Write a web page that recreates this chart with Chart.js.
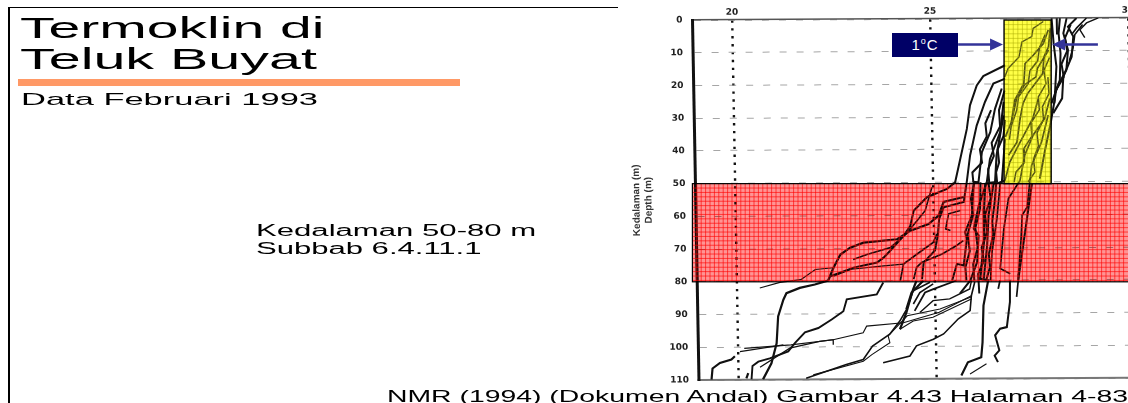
<!DOCTYPE html>
<html>
<head>
<meta charset="utf-8">
<script src="https://cdn.jsdelivr.net/npm/chart.js@4"></script>
<style>
html,body{margin:0;padding:0;background:#fff;width:1128px;height:403px;overflow:hidden}
#c{position:absolute;left:0;top:0}
.t{position:absolute;white-space:nowrap;font-family:"Liberation Sans",Arial,sans-serif;color:#000;transform-origin:0 0;line-height:1}
.f{position:absolute;background:#000}
#bar{position:absolute;left:18px;top:79px;width:442px;height:7px;background:#ff9966}
#box{position:absolute;left:892px;top:33px;width:66px;height:24px;background:#000066;color:#fff;font:15px "Liberation Sans",Arial,sans-serif;text-align:center;line-height:24px;letter-spacing:1px}
#box sup{font-size:9px;line-height:0}
</style>
</head>
<body>
<canvas id="c" width="1128" height="403"></canvas>
<div class="f" style="left:8px;top:7px;width:2px;height:396px"></div>
<div class="f" style="left:8px;top:7px;width:610px;height:1px"></div>
<div class="t" data-w="305" style="left:20px;top:14px;font-size:29px">Termoklin di</div>
<div class="t" data-w="297" style="left:20px;top:45px;font-size:29px">Teluk Buyat</div>
<div id="bar"></div>
<div class="t" data-w="296" style="left:21px;top:91px;font-size:17px">Data Februari 1993</div>
<div class="t" data-w="280" style="left:256px;top:223px;font-size:16px">Kedalaman 50-80 m</div>
<div class="t" data-w="225" style="left:256px;top:241px;font-size:16px">Subbab 6.4.11.1</div>
<div class="t" data-w="741" style="left:387px;top:389px;font-size:16px">NMR (1994) (Dokumen Andal) Gambar 4.43 Halaman 4-83</div>
<div id="box">1<sup>o</sup>C</div>
<script>
// Tick labels
const tempTicks = [20, 25, 30];
const depthTicks = [0, 10, 20, 30, 40, 50, 60, 70, 80, 90, 100, 110];
const depthTitle = ['Kedalaman (m)', 'Depth (m)'];

// Highlighted ranges
const yellowTemp = [26.87, 28.06];
const yellowDepth = [0, 50];
const redDepth = [50, 80];
const arrowDepth = 7.5;
const arrowTemp = [25.71, 29.24];

// Temperature profiles
const tA=[19.32,19.35,19.54,19.83,19.92], dA=[109.9,106.5,104.8,103.8,102.8];
const tB=[20.2,20.25], dB=[109.6,108];
const tD=[20.33,20.36,20.51,20.80,21.27,21.44,21.70,22.04,22.38,22.68,22.77,23.53,23.70];
const dD=[109.9,105.8,104.5,103.5,101.4,98.9,95.6,94.3,91.7,89.2,85.6,84.1,80.5];
const tMain=[20.62,20.84,20.98,21.03,21.17,21.25,21.59,21.97,22.31,22.45,22.63,22.88,23.22,24.07,24.41,24.87,25.13,25.26,25.77];
const dMain=[109.9,105,98.9,90.7,85.6,83.6,82,81,79.8,75.9,71.9,69.8,68.3,67.3,64.7,62.7,60.1,56,54.5];
const tC=[20.58,21.09,21.62,21.99,22.45], dC=[82,80.3,79.5,76.4,75.9];
const tU1=[22.37,22.96,23.55,23.72,23.89,24.24,24.41,24.5,24.84,25.35,25.56,25.70,25.88,25.97,26.15,26.32,26.875];
const dU1=[78.5,75.9,74.4,72.9,70.8,66.2,63.2,58.6,54.5,52,50,42.9,33.7,26.5,20.4,17.6,14.3];
const tU2=[26.87,26.57,26.35,26.13,25.95,25.86,25.77,25.26,25.14,25.1,25.02,24.73,24.68];
const dU2=[18.4,19.9,25.5,32.7,41.8,49.4,56,57.6,61.1,66.2,70.8,74.4,79.5];
const tU3=[26.78,26.60,26.47,26.25,26.15,26.03,25.97,25.79,25.83,25.74,25.57,25.44];
const dU3=[21.4,27.6,34.7,40.8,50,49.9,60.1,65.2,67.3,75.4,74.9,80];
const tU4=[26.82,26.72,26.45,26.36,26.15,26.01,26.13,26.08,25.9,25.63];
const dU4=[25.5,34.7,42.9,50,57,64.2,66.2,74.4,80,84];
const tU5=[26.81,26.62,26.57,26.32,26.28,26.27,26.15,26.35,26.22,26.18,26.14,25.8,25.63];
const dU5=[29.6,41.8,50,50.5,58,67.3,79.5,80,87.7,98.9,103.5,105,109];
const tU6=[26.84,26.74,26.53,26.39,26.34,26.24], dU6=[36.7,50,50.5,60.1,69.3,79.5];
const tY1=[27.86,27.60,27.56,27.31,27.23,26.95,26.86], dY1=[1,3.1,5.6,7.2,11.8,15.3,17.9];
const tY2=[27.98,27.85,27.59,27.38,27.34,27.10,27.01,26.85], dY2=[3.6,7.7,11.3,13.8,19.9,25,31.6,36.2];
const tY3=[28.03,27.98,27.86,27.82,27.43,27.31,27.23,27.14,26.92], dY3=[3.1,8.7,11.8,16.9,23,26,30.6,37.8,41.8];
const tY4=[27.98,27.69,27.65,27.35,27.15,27.01], dY4=[9.7,15.3,17.9,20.4,24.5,31.6];
const tY5=[27.99,27.85,27.55,27.33,27.2,26.9,26.77,26.66,26.91], dY5=[24.5,30.6,35.7,41.8,49.5,55,64.2,76.4,78];
const tY6=[27.70,27.55,27.22,26.95,26.82,26.7,26.6,26.46,26.41], dY6=[24.5,30.6,37.8,43.9,49.5,50,61.1,71.3,80];
const tY7=[27.94,27.76,27.5,27.45,27.37,27.24,27.2,27.12,27.11,27.06], dY7=[29.6,37.8,44.9,49.5,57.6,60.1,67.3,78,80,85.1];
const tZ1=[28.07,28.11,28.17,28.11,28.0,27.85,27.7], dZ1=[0,7.7,14.8,25,32,40,49];
const tZ2=[28.28,28.24,28.28,28.25,28.03], dZ2=[0,4.6,10.7,18.9,26];
const tZ3=[28.45,28.36,28.47,28.42,28.21,28.12], dZ3=[0,4.6,9.7,15.8,20.4,23];
const tZ4=[28.7,28.48,28.61,28.56,28.34,28.3,28.07], dZ4=[0,2.6,5.6,11.8,17.9,24.5,29];
const tZ5=[28.95,28.7,28.57], dZ5=[0,3,5];
const tZ6=[29.25,28.95,28.78,28.9], dZ6=[0,1.5,3.6,6];
const tZ7=[28.2,28.2], dZ7=[0,5];
const tZ8=[28.55,28.4,28.45,28.3,28.35,28.15,28.1], dZ8=[2,6,10,14,18,22,26];
const tZ9=[28.85,28.65,28.6,28.5], dZ9=[2,5,9,13];
const tV3=[25.68,25.38,25.3,25.42], dV3=[58.6,59.6,64.2,64.7];
const tW1=[24.13,24.22,24.56,24.98,25.08], dW1=[80,74.9,71.9,68.3,65.7];
const tW2=[24.47,24.55,24.68,25.2,25.57,25.74], dW2=[79.5,75.9,74.4,71.9,69.3,67.8];
const tW5=[22.45,22.9,23.72,24.22], dW5=[78.5,76.4,75.4,74.9];
const tW6=[22.95,23.3,23.9,24.3,24.58,24.79,24.97], dW6=[73.4,71.9,69.8,65.7,61.7,58.6,51.5];
const tP=[24.27,24.41,24.71], dP=[88.7,83.6,80];
const tQ=[24.48,24.75,24.96,25.55], dQ=[89.2,83.6,82.6,80];
const tR=[24.61,24.95,25.37,25.88,25.93], dR=[89.7,86.1,85.6,82.6,80];
const tS=[24.1,24.27,24.45,24.54], dS=[94.8,89.7,82.6,80];
const tK=[24.1,24.44,24.94,25.93], dK=[94.8,92.3,91.2,85.6];
const tE=[20.16,21.34,22.41,23.17,23.26,24.19,25.1,25.93], dE=[100.4,99.4,97.9,95.8,93.8,92.8,89.7,84.6];
const tH=[21.71,22.73,23.16,23.4,23.84,24.1,24.28,24.45,24.88], dH=[109.6,105.5,104,99.9,96.3,92.3,88.7,83.1,80.5];
const tI=[21.89,23.16,23.38,23.84,23.8,24.29,25.12,25.93], dI=[108.6,104.5,102.5,98.9,96.8,90.7,88.7,85];
const tF=[20.55,21.31,22.07,22.41,22.41], dF=[106.2,100.4,98.4,97.9,99.4];
const tG=[20.05,21.15], dG=[101.4,99.4];
const tJ=[23.66,24.34,24.51,24.94,25.2,25.58,25.88,25.92,26.01], dJ=[105,103,99.9,97.9,96.3,91.7,89.2,84.6,80.5];
const tM=[26.56,26.48,26.6,26.5,26.63,26.8,26.89,26.9], dM=[105,103,101.4,96.8,94.8,94.3,86.6,80];
const tM2=[25.85,26.27], dM2=[108.6,105.5];
const tN=[27.11,27.5], dN=[80,50.4];
const tO=[26.6,26.65], dO=[82.6,80];
const tT=[24.45,24.62,24.96], dT=[87.1,83.6,81];
const tA1=[27.9,27.75,27.7,27.5,27.45,27.2,27.15,27.0,26.95], dA1=[5,9,13,16,20,24,28,33,37];
const tA2=[28,27.85,27.9,27.7,27.72,27.5,27.52,27.3,27.32,27.1,27.05], dA2=[12,16,20,24,28,32,36,40,44,47,50];
const tA3=[27.95,27.97,27.8,27.82,27.65,27.68,27.55,27.58,27.4], dA3=[18,23,27,31,35,39,43,47,50];
const tL1=[26.85,26.7,26.72,26.5,26.55,26.4,26.42], dL1=[22,28,33,38,42,46,50];
const tL2=[26.85,26.8,26.65,26.68,26.6,26.62], dL2=[31,36,40,44,47,50];
const tL3=[26.5,26.35,26.38,26.2,26.25,26.0,26.02], dL3=[28,32,36,40,44,47,50];
const tR1=[26.4,26.45,26.3,26.35,26.2,26.25,26.1,26.12], dR1=[50,55,60,65,70,74,78,84];
const tR2=[26.6,26.55,26.48,26.5,26.38,26.4,26.3], dR2=[50,56,62,66,72,76,80];
const tR3=[26.05,25.95,26.0,25.85,25.9,25.78,25.8], dR3=[50,55,60,66,71,76,80];
const tR4=[26.2,26.18,26.05,26.1,25.98,26.0], dR4=[50,58,64,70,75,80];

const profiles = [
  [tA,dA,2.2],[tB,dB,2.2],[tD,dD,1.9],[tMain,dMain,2.2],[tC,dC,1.1],[tU1,dU1,2],[tU2,dU2,2],[tU3,dU3,2],
  [tU4,dU4,2],[tU5,dU5,2.2],[tU6,dU6,2],[tY1,dY1,1.4],[tY2,dY2,1.7],[tY3,dY3,1.7],[tY4,dY4,1.7],
  [tY5,dY5,1.7],[tY6,dY6,1.7],[tY7,dY7,1.7],[tZ1,dZ1,2],[tZ2,dZ2,2],[tZ3,dZ3,2],[tZ4,dZ4,2],
  [tZ5,dZ5,1.6],[tZ6,dZ6,1.4],[tZ7,dZ7,2],[tZ8,dZ8,2],[tZ9,dZ9,1.6],[tV3,dV3,1.6],[tW1,dW1,1.7],[tW2,dW2,1.7],[tW5,dW5,1.1],
  [tW6,dW6,1.6],[tP,dP,2.2],[tQ,dQ,1.8],[tR,dR,1.4],[tS,dS,2.2],[tK,dK,1.1],[tE,dE,1.1],[tH,dH,1.6],[tI,dI,1.1],
  [tF,dF,1.3],[tG,dG,1.1],[tJ,dJ,1.6],[tM,dM,2],[tM2,dM2,1.1],[tN,dN,2],[tO,dO,1.8],[tT,dT,1.6],
  [tA1,dA1,1.5],[tA2,dA2,1.5],[tA3,dA3,1.5],[tL1,dL1,2],[tL2,dL2,2],[tL3,dL3,2],[tR1,dR1,2],[tR2,dR2,2],[tR3,dR3,2],[tR4,dR4,2]
];

function gridRect(ctx, x0, y0, x1, y1, step, color) {
  ctx.strokeStyle = color;
  ctx.lineWidth = 1;
  ctx.beginPath();
  for (let x = x0 + step; x < x1; x += step) { ctx.moveTo(x, y0); ctx.lineTo(x, y1); }
  for (let y = y0 + step; y < y1; y += step) { ctx.moveTo(x0, y); ctx.lineTo(x1, y); }
  ctx.stroke();
}
function arrow(ctx, xFrom, xTo, y) {
  const dir = xTo > xFrom ? 1 : -1;
  ctx.strokeStyle = ctx.fillStyle = '#333399';
  ctx.lineWidth = 2.5;
  ctx.beginPath(); ctx.moveTo(xFrom, y); ctx.lineTo(xTo - dir * 10, y); ctx.stroke();
  ctx.beginPath(); ctx.moveTo(xTo, y); ctx.lineTo(xTo - dir * 13, y - 6); ctx.lineTo(xTo - dir * 13, y + 6); ctx.closePath(); ctx.fill();
}
const scanPlugin = {
  id: 'scan',
  beforeDraw(chart) {
    const c = chart.ctx;
    c.save();
    c.transform(1, -0.005, 0.018, 1, -0.36, 3.465); // the scanned figure sits slightly askew
  },
  afterDatasetsDraw(chart) {
    const c = chart.ctx, X = chart.scales.x, Y = chart.scales.y;
    c.restore();
    const a = chart.chartArea;
    // red band
    const ry0 = Y.getPixelForValue(redDepth[0]), ry1 = Y.getPixelForValue(redDepth[1]);
    c.save();
    c.globalCompositeOperation = 'multiply';
    c.fillStyle = '#ff9494';
    c.fillRect(a.left, ry0, a.right - a.left, ry1 - ry0);
    c.restore();
    gridRect(c, a.left, ry0, a.right, ry1, 4.4, 'rgba(255,0,0,.62)');
    c.strokeStyle = '#000'; c.lineWidth = 1.2;
    c.strokeRect(a.left, ry0, a.right - a.left + 2, ry1 - ry0);
    // yellow band
    const yx0 = X.getPixelForValue(yellowTemp[0]), yx1 = X.getPixelForValue(yellowTemp[1]);
    const yy0 = Y.getPixelForValue(yellowDepth[0]), yy1 = Y.getPixelForValue(yellowDepth[1]);
    c.save();
    c.globalCompositeOperation = 'multiply';
    c.fillStyle = '#ffff4a';
    c.fillRect(yx0, yy0, yx1 - yx0, yy1 - yy0);
    c.restore();
    c.fillStyle = 'rgba(255,255,60,.28)';
    c.fillRect(yx0, yy0, yx1 - yx0, yy1 - yy0);
    gridRect(c, yx0, yy0, yx1, yy1, 4.6, 'rgba(170,170,0,.5)');
    c.strokeStyle = '#000'; c.lineWidth = 1.4;
    c.strokeRect(yx0, yy0, yx1 - yx0, yy1 - yy0);
    // arrows
    const ay = Y.getPixelForValue(arrowDepth);
    arrow(c, X.getPixelForValue(arrowTemp[0]), yx0 - 1, ay);
    arrow(c, X.getPixelForValue(arrowTemp[1]), yx1 + 1, ay);
  }
};

new Chart(document.getElementById('c'), {
  type: 'line',
  plugins: [scanPlugin],
  data: {
    datasets: profiles.map((p, i) => ({
      label: 'Profil ' + (i + 1),
      data: p[0].map((t, j) => ({ x: t, y: p[1][j] })),
      borderColor: '#111',
      borderWidth: p[2],
      pointRadius: 0,
      fill: false,
      tension: 0
    }))
  },
  options: {
    responsive: false,
    animation: false,
    layout: { padding: { left: 627.4, right: 0, top: 0, bottom: 23 } },
    plugins: { legend: { display: false }, tooltip: { enabled: false } },
    scales: {
      x: {
        type: 'linear', position: 'top', min: 19, max: 30,
        afterBuildTicks(s) { s.ticks = tempTicks.map(v => ({ value: v })); },
        afterFit(s) { s.height = 20; s.paddingLeft = 0; s.paddingRight = 0; },
        grid: { color: '#111', lineWidth: 2.4, drawTicks: false },
        border: { color: '#555', width: 1.5, dash: [2.4, 5.5] },
        ticks: { color: '#222', font: { family: 'DejaVu Sans', size: 9, weight: 'bold' }, padding: 2, maxRotation: 0, autoSkip: false }
      },
      xBottom: {
        type: 'linear', position: 'bottom', min: 19, max: 30,
        afterFit(s) { s.height = 0; s.paddingLeft = 0; s.paddingRight = 0; },
        grid: { display: false, drawTicks: false },
        border: { color: '#777', width: 2 },
        ticks: { display: false }
      },
      y: {
        type: 'linear', position: 'left', reverse: true, min: 0, max: 110,
        afterBuildTicks(s) { s.ticks = depthTicks.map(v => ({ value: v })); },
        afterFit(s) { s.width = 65; s.paddingTop = 0; s.paddingBottom = 0; },
        grid: { color: '#a6a6a6', lineWidth: 1, drawTicks: false },
        border: { color: '#111', width: 3, dash: [7, 10] },
        ticks: { color: '#222', font: { family: 'DejaVu Sans', size: 9, weight: 'bold' }, padding: 10, autoSkip: false },
        title: { display: true, text: depthTitle, color: '#333', font: { family: 'Liberation Sans', size: 10, weight: 'bold' }, padding: 0 }
      }
    }
  }
});
document.querySelectorAll('.t').forEach(el => {
  el.style.transform = 'scaleX(' + (el.dataset.w / el.offsetWidth) + ')';
});
</script>
</body>
</html>
